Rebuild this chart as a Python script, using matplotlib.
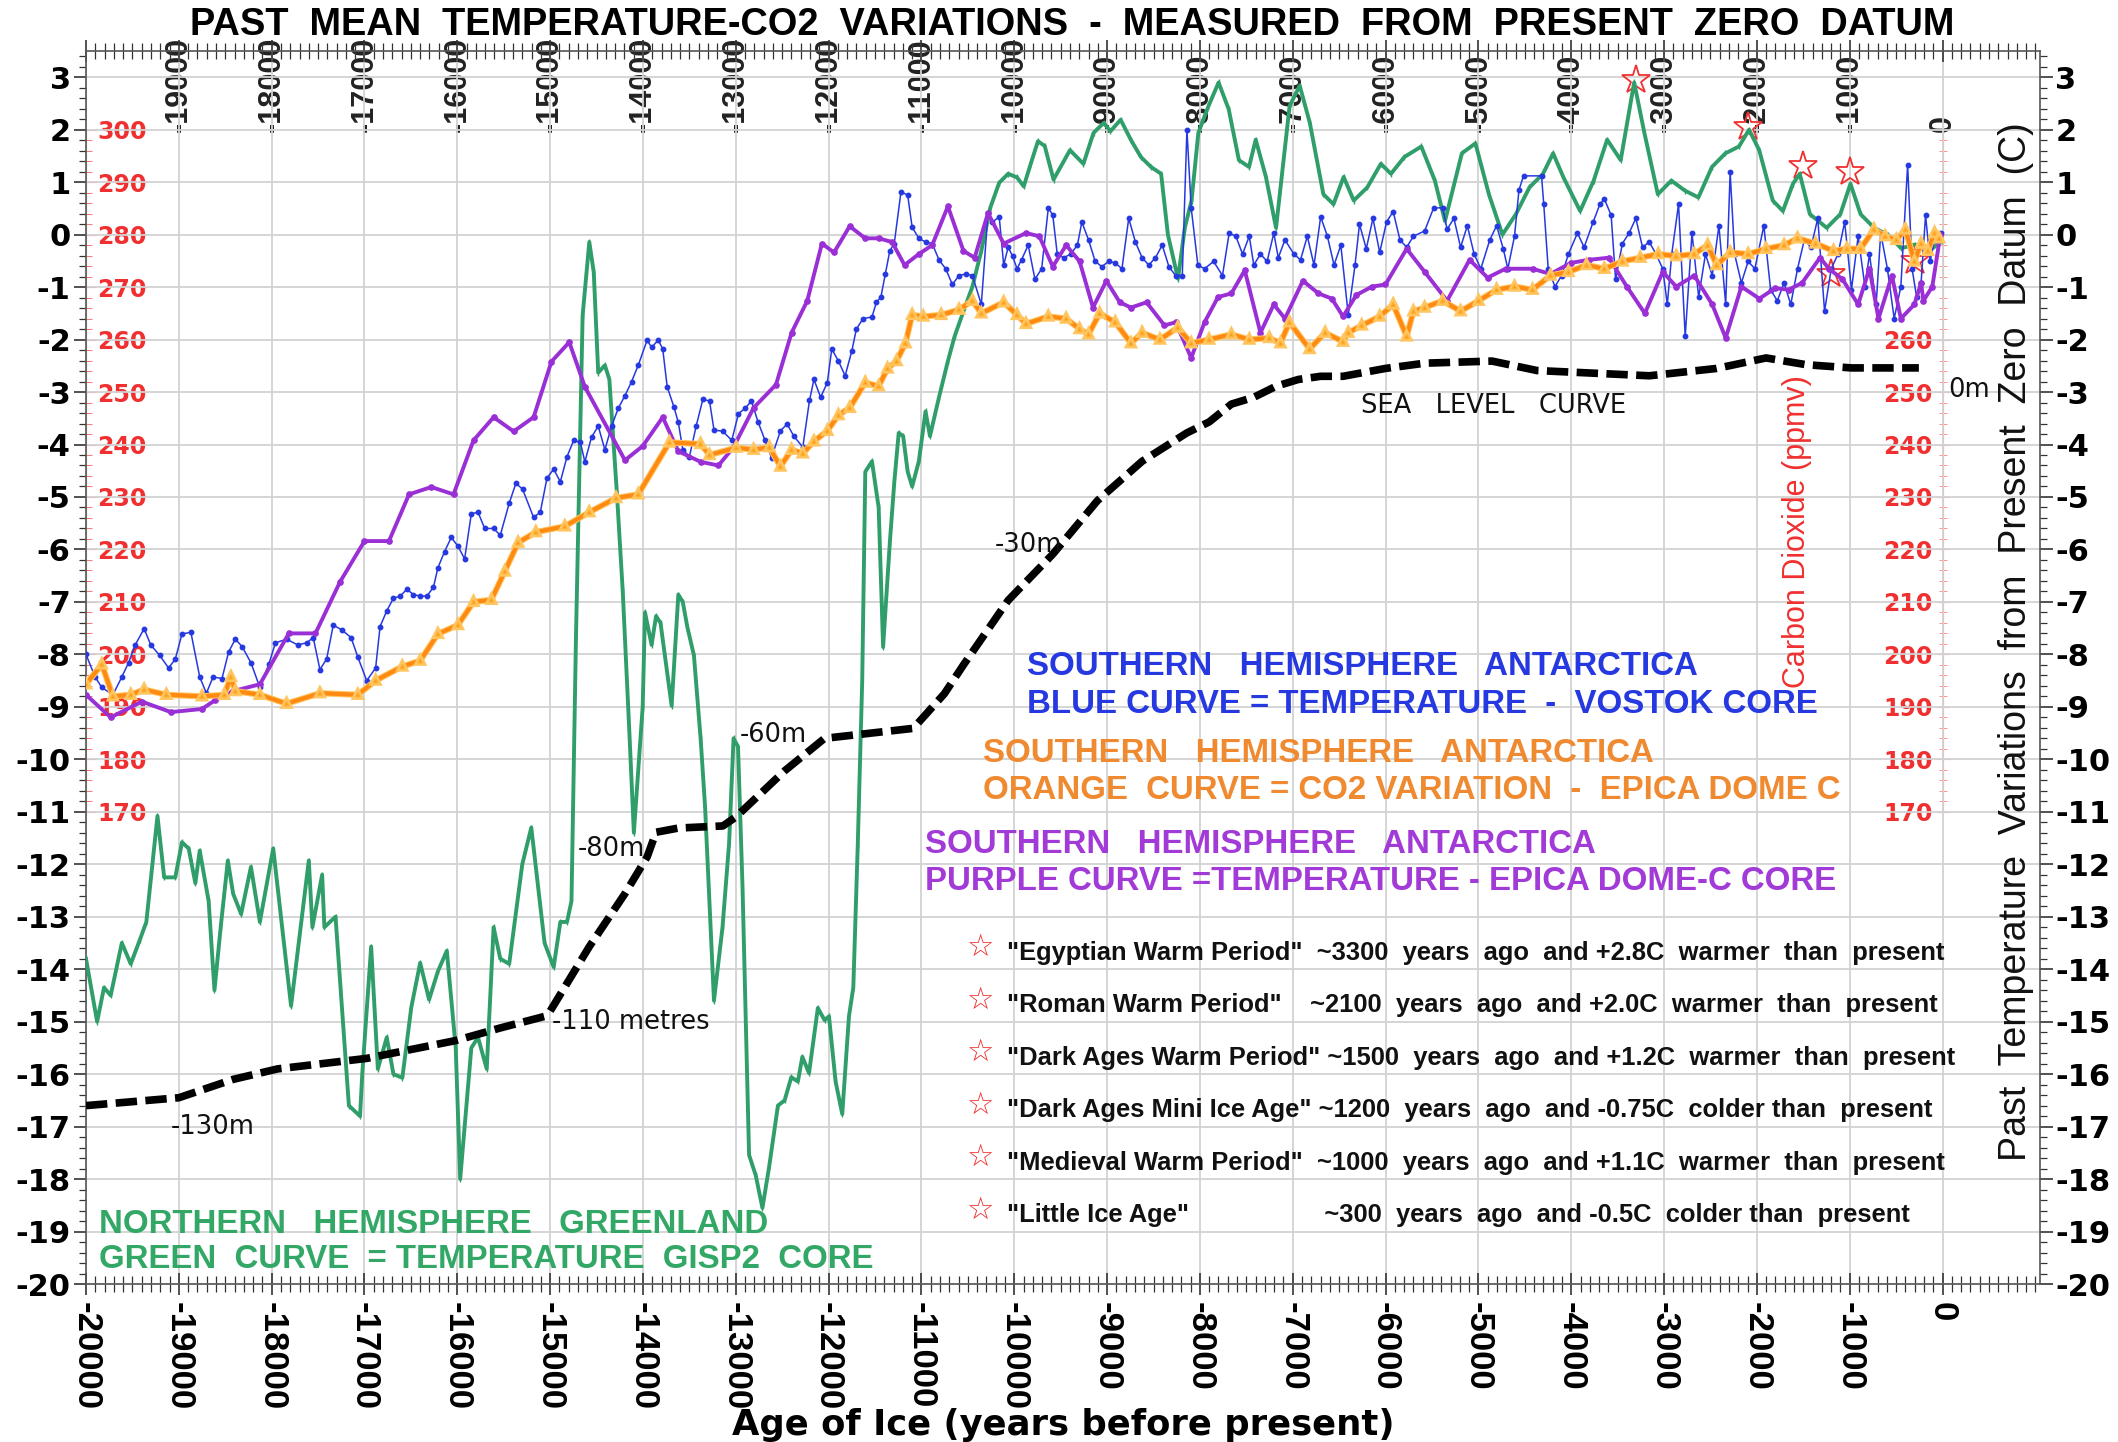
import numpy as np
import matplotlib
matplotlib.use("Agg")
import matplotlib.pyplot as plt
import matplotlib.patheffects as pe
from matplotlib.ticker import FixedLocator, MultipleLocator, FuncFormatter

plt.rcParams['axes.unicode_minus'] = False

NARROW = ['Liberation Sans Narrow', 'Liberation Sans', 'DejaVu Sans']
ARIAL = ['Liberation Sans', 'DejaVu Sans']
WIDE = ['DejaVu Sans']

# ---- GISP2 Greenland temperature (green), years before present vs deg C ----
green_year = [-20000, -19880, -19806, -19734, -19614, -19518, -19422, -19350, -19230, -19158,
              -19038, -18966, -18894, -18822, -18775, -18679, -18616, -18549, -18472, -18415,
              -18329, -18223, -18127, -17983, -17791, -17600, -17561, -17456, -17432, -17312,
              -17168, -17048, -17024, -16928, -16856, -16760, -16688, -16592, -16496, -16400,
              -16304, -16209, -16113, -16017, -15969, -15849, -15777, -15683, -15609, -15537,
              -15441, -15300, -15203, -15060, -14962, -14890, -14818, -14770, -14722, -14650,
              -14578, -14530, -14482, -14410, -14362, -14280, -14218, -14146, -14098, -14003,
              -13978, -13907, -13859, -13811, -13691, -13619, -13571, -13523, -13451, -13379,
              -13331, -13235, -13143, -13072, -13024, -12976, -12928, -12857, -12785, -12713,
              -12641, -12546, -12474, -12402, -12331, -12283, -12211, -12116, -12044, -11996,
              -11925, -11853, -11781, -11734, -11686, -11638, -11605, -11533, -11461, -11413,
              -11341, -11293, -11245, -11197, -11148, -11100, -11028, -10956, -10908, -10811,
              -10715, -10643, -10547, -10451, -10355, -10259, -10162, -10066, -9970, -9898,
              -9826, -9745, -9672, -9577, -9400, -9255, -9146, -9036, -8964, -8854,
              -8745, -8636, -8527, -8418, -8345, -8236, -8163, -8090, -8017, -7908,
              -7799, -7690, -7580, -7471, -7399, -7289, -7180, -7034, -6925, -6816,
              -6670, -6561, -6452, -6343, -6197, -6051, -5942, -5797, -5615, -5469,
              -5360, -5178, -5032, -4887, -4741, -4596, -4450, -4304, -4195, -4086,
              -3904, -3758, -3613, -3467, -3322, -3212, -3067, -2921, -2776, -2630,
              -2484, -2339, -2193, -2084, -1975, -1829, -1720, -1611, -1538, -1429,
              -1247, -1101, -992, -883, -737, -592, -446, -300, -155, -9]
green_temp = [-13.8, -15.0, -14.35, -14.5, -13.5, -13.9, -13.45, -13.1, -11.08, -12.25,
              -12.25, -11.58, -11.7, -12.36, -11.74, -12.7, -14.4, -13.2, -11.93, -12.56,
              -12.95, -12.05, -13.1, -11.7, -14.7, -11.93, -13.2, -12.2, -13.2, -13.0,
              -16.6, -16.8, -16.0, -13.57, -15.9, -15.3, -16.0, -16.07, -14.73, -13.88,
              -14.58, -14.04, -13.65, -15.5, -18.0, -15.5, -15.3, -15.9, -13.2, -13.8,
              -13.9, -12.0, -11.3, -13.5, -13.96, -13.1, -13.1, -12.7, -7.7, -1.54,
              -0.14, -0.72, -2.63, -2.49, -2.76, -4.95, -6.79, -9.5, -11.4, -9.0,
              -7.2, -7.82, -7.27, -7.4, -8.98, -6.86, -7.0, -7.47, -8.02, -9.6,
              -10.9, -14.6, -13.2, -11.6, -9.6, -9.76, -12.4, -17.54, -17.93, -18.55,
              -17.77, -16.6, -16.5, -16.06, -16.14, -15.67, -15.98, -14.74, -14.97, -14.9,
              -16.14, -16.76, -14.9, -14.35, -11.63, -8.5, -4.52, -4.32, -5.2, -7.86,
              -5.88, -4.73, -3.78, -3.84, -4.52, -4.8, -4.32, -3.37, -3.84, -3.1,
              -2.41, -1.94, -1.46, -0.99, -0.31, 0.51, 0.99, 1.16, 1.09, 0.92,
              1.33, 1.78, 1.69, 1.05, 1.61, 1.35, 1.94, 2.13, 1.97, 2.19,
              1.81, 1.48, 1.29, 1.16, 0.0, -0.84, 0.13, 0.65, 1.94, 2.45,
              2.9, 2.39, 1.42, 1.29, 1.81, 1.1, 0.13, 2.45, 2.84, 2.13,
              0.77, 0.58, 1.1, 0.65, 0.9, 1.35, 1.16, 1.48, 1.68, 1.03,
              0.26, 1.55, 1.74, 0.77, 0.0, 0.39, 0.9, 1.16, 1.55, 1.1,
              0.45, 1.03, 1.81, 1.42, 2.9, 1.94, 0.77, 1.03, 0.84, 0.71,
              1.29, 1.55, 1.68, 2.0, 1.61, 0.65, 0.45, 0.97, 1.16, 0.39,
              0.13, 0.39, 0.97, 0.39, 0.13, 0.0, -0.26, -0.19, -0.32, -0.13]

# ---- Vostok temperature (blue) ----
blue_year = [-20000, -19902, -19830, -19710, -19614, -19542, -19470, -19374, -19302, -19206,
             -19110, -19038, -18966, -18870, -18775, -18703, -18631, -18535, -18463, -18391,
             -18319, -18223, -18127, -18031, -17959, -17839, -17719, -17624, -17552, -17480,
             -17408, -17336, -17240, -17144, -17072, -16976, -16880, -16832, -16760, -16688,
             -16616, -16544, -16472, -16400, -16328, -16257, -16209, -16137, -16065, -15993,
             -15921, -15849, -15777, -15705, -15609, -15537, -15441, -15369, -15297, -15178,
             -15106, -15034, -14962, -14890, -14818, -14746, -14674, -14626, -14554, -14482,
             -14410, -14338, -14266, -14194, -14122, -14051, -13955, -13907, -13835, -13787,
             -13739, -13667, -13619, -13571, -13499, -13427, -13355, -13283, -13235, -13139,
             -13043, -12971, -12899, -12832, -12760, -12687, -12615, -12519, -12447, -12375,
             -12278, -12206, -12158, -12086, -12014, -11966, -11894, -11822, -11749, -11701,
             -11629, -11533, -11485, -11437, -11389, -11341, -11293, -11220, -11148, -11100,
             -11028, -10956, -10884, -10811, -10739, -10667, -10595, -10523, -10451, -10355,
             -10283, -10235, -10162, -10114, -10066, -10018, -9970, -9922, -9850, -9777,
             -9705, -9633, -9585, -9537, -9465, -9393, -9320, -9272, -9200, -9128,
             -9056, -8984, -8912, -8840, -8767, -8695, -8623, -8551, -8479, -8406,
             -8334, -8262, -8190, -8140, -8094, -8022, -7950, -7853, -7757, -7685,
             -7613, -7541, -7468, -7420, -7348, -7276, -7204, -7156, -7084, -6988,
             -6916, -6843, -6771, -6699, -6627, -6555, -6482, -6402, -6329, -6281,
             -6208, -6136, -6063, -5990, -5918, -5845, -5773, -5700, -5579, -5482,
             -5385, -5337, -5264, -5192, -5119, -5046, -4974, -4877, -4804, -4732,
             -4683, -4611, -4563, -4514, -4320, -4296, -4248, -4175, -4103, -4030,
             -3933, -3861, -3764, -3691, -3643, -3570, -3522, -3449, -3377, -3304,
             -3232, -3159, -3087, -3014, -2965, -2917, -2844, -2772, -2699, -2627,
             -2554, -2481, -2409, -2336, -2288, -2240, -2167, -2094, -2022, -1925,
             -1852, -1780, -1707, -1635, -1562, -1489, -1417, -1344, -1271, -1199,
             -1126, -1054, -981, -909, -836, -787, -715, -666, -594, -521,
             -449, -376, -328, -279, -231, -183, -134, -86, -14]
blue_temp = [-8.0, -8.43, -8.63, -8.77, -8.43, -8.16, -7.82, -7.51, -7.82, -8.02,
             -8.26, -8.09, -7.61, -7.58, -8.43, -8.74, -8.43, -8.46, -7.95, -7.71,
             -7.85, -8.16, -8.63, -8.19, -7.78, -7.71, -7.82, -7.78, -7.68, -8.29,
             -8.09, -7.44, -7.54, -7.68, -8.05, -8.5, -8.26, -7.47, -7.17, -6.93,
             -6.89, -6.76, -6.86, -6.89, -6.89, -6.72, -6.35, -6.04, -5.77, -5.94,
             -6.18, -5.32, -5.29, -5.6, -5.6, -5.73, -5.12, -4.74, -4.85, -5.39,
             -5.29, -4.64, -4.47, -4.71, -4.23, -3.92, -3.96, -4.33, -3.86, -3.65,
             -4.1, -3.65, -3.31, -3.07, -2.8, -2.49, -2.01, -2.15, -2.01, -2.18,
             -2.9, -3.28, -3.58, -4.1, -4.23, -3.65, -3.14, -3.17, -3.72, -3.75,
             -3.92, -3.41, -3.31, -3.17, -3.57, -3.91, -4.25, -3.74, -3.61, -3.84,
             -4.05, -3.16, -2.76, -3.1, -2.82, -2.18, -2.41, -2.69, -2.21, -1.8,
             -1.6, -1.57, -1.29, -1.19, -0.75, -0.31, -0.17, 0.82, 0.75, 0.14,
             -0.07, -0.14, -0.17, -0.48, -0.65, -0.95, -0.78, -0.75, -0.78, -1.33,
             0.41, 0.24, 0.34, -0.58, -0.24, -0.41, -0.65, -0.48, -0.2, -0.85,
             -0.65, 0.51, 0.37, -0.37, -0.44, -0.37, -0.2, 0.24, -0.1, -0.51,
             -0.61, -0.51, -0.54, -0.65, 0.31, -0.14, -0.44, -0.58, -0.44, -0.2,
             -0.61, -0.78, -0.78, 2.0, 0.51, -0.58, -0.65, -0.51, -0.78, 0.03,
             -0.03, -0.37, -0.03, -0.58, -0.37, -0.51, 0.03, -0.44, -0.1, -0.37,
             -0.48, -0.03, -0.58, 0.34, -0.03, -0.58, -0.2, -1.53, -0.58, 0.2,
             -0.27, 0.31, -0.34, 0.24, 0.44, -0.1, -0.24, -0.03, 0.07, 0.51,
             0.51, 0.1, 0.31, -0.24, 0.17, -0.37, -0.65, -0.1, 0.17, -0.27,
             -0.65, -0.03, 0.85, 1.12, 1.12, 0.58, -0.65, -0.99, -0.78, -0.37,
             0.03, -0.24, 0.24, 0.58, 0.68, 0.37, -0.85, -0.17, 0.03, 0.31,
             -0.24, -0.14, -0.37, -0.65, -1.33, -0.37, 0.58, -1.94, 0.03, -1.19,
             -0.37, -0.78, 0.17, -1.33, 1.19, -0.37, -0.92, -0.51, -0.65, 0.17,
             -1.05, -1.26, -0.92, -1.33, -0.65, -0.1, -0.24, 0.31, -1.46, -0.65,
             -0.37, 0.24, -1.05, -0.03, -0.99, -0.37, -1.33, 0.03, -0.65, -1.6,
             -0.99, 1.33, -0.65, -1.19, -0.92, 0.37, -0.51, -0.1, 0.03]

# ---- EPICA Dome C temperature (purple) ----
purple_year = [-20000, -19734, -19398, -19086, -18750, -18607, -18415, -18127, -17815, -17528,
               -17264, -17000, -16736, -16520, -16280, -16041, -15825, -15609, -15393, -15178,
               -14986, -14794, -14626, -14194, -14003, -13787, -13619, -13379, -13187, -13024,
               -12808, -12567, -12399, -12230, -12072, -11942, -11773, -11605, -11461, -11317,
               -11182, -11028, -10884, -10715, -10547, -10427, -10283, -10114, -9874, -9730,
               -9585, -9441, -9296, -9152, -9008, -8863, -8743, -8575, -8382, -8262,
               -8094, -7950, -7805, -7661, -7517, -7348, -7204, -7084, -6891, -6723,
               -6579, -6458, -6314, -6146, -6001, -5773, -5579, -5337, -5095, -4901,
               -4708, -4417, -4224, -4006, -3812, -3595, -3401, -3207, -3014, -2869,
               -2675, -2481, -2336, -2167, -1973, -1804, -1659, -1513, -1320, -1223,
               -1078, -909, -787, -690, -545, -449, -303, -231, -206, -110, -23]
purple_temp = [-8.77, -9.2, -8.9, -9.1, -9.04, -8.87, -8.7, -8.57, -7.6, -7.6,
               -6.62, -5.84, -5.84, -4.95, -4.81, -4.95, -3.92, -3.48, -3.75, -3.48,
               -2.42, -2.05, -2.9, -4.3, -4.03, -3.48, -4.13, -4.33, -4.4, -4.05,
               -3.3, -2.86, -1.87, -1.26, -0.17, -0.34, 0.16, -0.07, -0.07, -0.14,
               -0.58, -0.37, -0.2, 0.54, -0.31, -0.44, 0.41, -0.17, 0.03, -0.03,
               -0.61, -0.2, -0.51, -1.39, -0.88, -1.29, -1.39, -1.29, -1.73, -1.67,
               -2.35, -1.67, -1.19, -1.12, -0.68, -1.87, -1.33, -1.6, -0.88, -1.12,
               -1.22, -1.56, -1.15, -0.99, -0.95, -0.27, -0.71, -1.26, -0.48, -0.82,
               -0.65, -0.65, -0.75, -0.54, -0.48, -0.44, -0.99, -1.5, -0.71, -0.99,
               -0.78, -1.33, -1.97, -0.99, -1.22, -1.02, -1.05, -0.92, -0.44, -0.65,
               -0.85, -1.33, -0.65, -1.6, -0.78, -1.6, -1.33, -0.92, -1.26, -0.99, 0.0]

# ---- EPICA Dome C carbon dioxide (orange), ppmv ----
co2_year = [-20000, -19830, -19710, -19518, -19374, -19134, -18750, -18510, -18439, -18391,
            -18127, -17839, -17480, -17072, -16880, -16592, -16400, -16209, -15993, -15825,
            -15633, -15489, -15345, -15154, -14842, -14578, -14290, -14051, -13715, -13379,
            -13283, -12995, -12808, -12639, -12519, -12399, -12278, -12158, -12014, -11894,
            -11773, -11605, -11461, -11365, -11268, -11172, -11100, -10980, -10787, -10595,
            -10451, -10355, -10114, -9970, -9874, -9633, -9441, -9296, -9200, -9080,
            -8912, -8743, -8623, -8431, -8238, -8094, -7901, -7661, -7468, -7252,
            -7132, -7036, -6819, -6651, -6458, -6402, -6257, -6063, -5918, -5773,
            -5700, -5579, -5385, -5192, -4998, -4804, -4611, -4417, -4224, -4030,
            -3836, -3643, -3449, -3256, -3062, -2869, -2675, -2530, -2433, -2288,
            -2094, -1901, -1707, -1562, -1368, -1175, -1030, -884, -739, -618,
            -497, -400, -303, -231, -158, -86, -37]
co2_ppmv = [194.3, 198.1, 192.0, 192.3, 193.3, 192.3, 192.0, 192.3, 195.7, 193.0,
            192.3, 190.6, 192.6, 192.3, 195.0, 197.7, 198.8, 203.9, 205.6, 210.0,
            210.4, 215.8, 221.3, 223.3, 224.4, 227.1, 229.8, 230.5, 240.4, 240.1,
            238.0, 239.4, 239.0, 239.5, 235.8, 239.0, 238.3, 240.6, 242.6, 245.6,
            247.0, 251.8, 251.1, 254.5, 255.9, 259.3, 264.7, 264.4, 264.7, 265.7,
            267.4, 265.0, 267.1, 264.7, 263.0, 264.4, 264.0, 262.0, 261.0, 265.0,
            263.3, 259.3, 261.3, 260.0, 262.3, 259.3, 260.0, 261.0, 260.0, 260.3,
            259.3, 263.3, 258.2, 261.3, 259.6, 261.3, 262.7, 264.4, 266.7, 260.6,
            265.4, 266.1, 267.4, 265.4, 267.4, 269.5, 270.1, 269.5, 272.2, 272.9,
            274.2, 273.5, 274.9, 275.6, 276.3, 275.9, 276.3, 278.0, 274.2, 276.6,
            276.3, 277.3, 278.0, 279.3, 278.3, 276.9, 277.3, 277.3, 281.0, 279.7,
            279.0, 281.0, 274.9, 278.3, 276.9, 280.3, 279.3]

# ---- sea level curve, drawn on the temperature scale ----
sea_year = [-20000, -19000, -18415, -17935, -16976, -16017, -15537, -15060, -15000, -14578,
            -14194, -13955, -13859, -13619, -13139, -13000, -12474, -12044, -11088, -10753,
            -10547, -10066, -9585, -9104, -8623, -8142, -7901, -7661, -7420, -7180,
            -6939, -6699, -6458, -6001, -5579, -4853, -4369, -3643, -3159, -2433,
            -1901, -1465, -981, -255]
sea_plot = [-16.6, -16.45, -16.1, -15.9, -15.7, -15.36, -15.12, -14.9, -14.8, -13.57,
            -12.56, -11.86, -11.39, -11.31, -11.27, -11.1, -10.22, -9.6, -9.41, -8.75,
            -8.2, -6.97, -6.09, -5.07, -4.32, -3.78, -3.57, -3.23, -3.1, -2.89,
            -2.76, -2.7, -2.7, -2.55, -2.45, -2.41, -2.59, -2.65, -2.69, -2.55,
            -2.35, -2.48, -2.54, -2.54]
sea_labels = ["-130m", "-110 metres", "-80m", "-60m", "-30m", "0m"]

# ---- warm / cold periods (red stars) ----
event_names = ['"Egyptian Warm Period"', '"Roman Warm Period"', '"Dark Ages Warm Period"',
               '"Dark Ages Mini Ice Age"', '"Medieval Warm Period"', '"Little Ice Age"']
event_year = [-3300, -2100, -1500, -1200, -1000, -300]
event_temp = [2.95, 2.05, 1.3, -0.75, 1.2, -0.5]
event_text = ['  ~3300  years  ago  and +2.8C  warmer  than  present',
              '    ~2100  years  ago  and +2.0C  warmer  than  present',
              ' ~1500  years  ago  and +1.2C  warmer  than  present',
              ' ~1200  years  ago  and -0.75C  colder than  present',
              '  ~1000  years  ago  and +1.1C  warmer  than  present',
              '                   ~300  years  ago  and -0.5C  colder than  present']


def co2_to_t(c):
    return (np.asarray(c, dtype=float) - 280.0) / 10.0


def t_to_co2(t):
    return np.asarray(t, dtype=float) * 10.0 + 280.0


GREEN = '#2f9e6a'
BLUE = '#2638e0'
PURPLE = '#9a2fd6'
ORANGE = '#ff8a12'
RED = '#f03030'

fig = plt.figure(figsize=(21.18, 14.42), dpi=100)
ax = fig.add_axes([86 / 2118, 1 - 1284 / 1442, (2040 - 86) / 2118, (1284 - 51) / 1442])
ax.set_xlim(-20000, 1050)
ax.set_ylim(-20, 3.5)

ax.xaxis.set_major_locator(FixedLocator(np.arange(-20000, 1, 1000)))
ax.xaxis.set_minor_locator(MultipleLocator(100))
ax.yaxis.set_major_locator(FixedLocator(np.arange(-20, 4, 1)))
ax.yaxis.set_minor_locator(MultipleLocator(0.2))
ax.xaxis.set_major_formatter(FuncFormatter(lambda v, p: '%d' % v))
ax.yaxis.set_major_formatter(FuncFormatter(lambda v, p: '%d' % v))
ax.grid(True, which='major', color='#d2d2d2', lw=1.3, zorder=0)
ax.set_axisbelow(True)

ax.tick_params(axis='x', which='both', bottom=True, top=True, direction='inout',
               labelbottom=True, labeltop=False, labelrotation=-90, pad=5, color='#333333')
ax.tick_params(axis='x', which='major', length=16, width=1.2)
ax.tick_params(axis='x', which='minor', length=12, width=0.9)
ax.tick_params(axis='y', which='both', left=True, right=True, labelleft=True, labelright=True,
               direction='out', color='#333333')
ax.tick_params(axis='y', which='major', length=9, width=1.2, pad=2)
ax.tick_params(axis='y', which='minor', length=5, width=0.9)
for lab in ax.get_xticklabels():
    lab.set_fontfamily(NARROW)
    lab.set_fontweight('bold')
    lab.set_fontsize(25)
for lab in ax.get_yticklabels():
    lab.set_fontfamily(WIDE)
    lab.set_fontweight('bold')
    lab.set_fontsize(22)
for side in ['left', 'right', 'top', 'bottom']:
    ax.spines[side].set_color('#555555')
    ax.spines[side].set_linewidth(1.2)

# top year labels inside the frame
top = ax.secondary_xaxis('top')
top.xaxis.set_major_locator(FixedLocator(np.arange(-19000, 1, 1000)))
top.xaxis.set_major_formatter(FuncFormatter(lambda v, p: '%d' % v))
top.tick_params(length=0, pad=-58, labelrotation=90, labelsize=22, labelcolor='#222222')
top.spines['top'].set_visible(False)
for lab in top.get_xticklabels():
    lab.set_fontfamily(NARROW)
    lab.set_fontweight('bold')

# carbon dioxide scales
co2_left = ax.secondary_yaxis(0.0, functions=(t_to_co2, co2_to_t))
co2_left.set_alignment('right')
co2_left.spines['right'].set_bounds(170, 300)
co2_left.spines['right'].set_color('#ff7070')
co2_left.yaxis.set_major_locator(FixedLocator(np.arange(170, 301, 10)))
co2_left.yaxis.set_minor_locator(FixedLocator(np.arange(170, 301, 2)))
co2_left.tick_params(which='both', direction='out', color='#ff6060', labelcolor=RED, pad=1)
co2_left.tick_params(which='major', length=7)
co2_left.tick_params(which='minor', length=4)
for lab in co2_left.get_yticklabels():
    lab.set_fontfamily(WIDE)
    lab.set_fontweight('bold')
    lab.set_fontsize(17)

co2_right = ax.secondary_yaxis(0, functions=(t_to_co2, co2_to_t), transform=ax.transData)
co2_right.spines['left'].set_bounds(170, 300)
co2_right.spines['left'].set_color('#ff8080')
co2_right.yaxis.set_major_locator(FixedLocator(np.arange(170, 261, 10)))
co2_right.yaxis.set_minor_locator(FixedLocator(np.arange(170, 301, 2)))
co2_right.tick_params(which='both', direction='inout', color='#ff8080', labelcolor=RED, pad=3)
co2_right.tick_params(which='major', length=8)
co2_right.tick_params(which='minor', length=6)
for lab in co2_right.get_yticklabels():
    lab.set_fontfamily(WIDE)
    lab.set_fontweight('bold')
    lab.set_fontsize(17)

# curves
ax.plot(event_year, event_temp, ls='none', marker='*', ms=21, mfc='none', mec=RED,
        mew=1.3, zorder=2)
ax.plot(green_year, green_temp, color=GREEN, lw=2.8, marker='|', ms=4, mew=1, zorder=3)
ax.plot(sea_year, sea_plot, color='black', lw=5.5, ls=(0, (2.8, 1.1)), zorder=4)
ax.plot(blue_year, blue_temp, color=BLUE, lw=1.1, marker='o', ms=3.2, zorder=5)
ax.plot(purple_year, purple_temp, color=PURPLE, lw=2.8, marker='o', ms=3.8, zorder=6)
ax.plot(co2_year, co2_to_t(co2_ppmv), color=ORANGE, lw=3.0, marker='^', ms=3, mec='#ffb030',
        zorder=7, path_effects=[pe.withStroke(linewidth=4.5, foreground='#ffc560')])

# sea level labels
sea_kw = dict(fontsize=18.5, family=WIDE, color='#111111', va='center', ha='left', zorder=8)
ax.text(-19090, -17.0, sea_labels[0], **sea_kw)
ax.text(-14980, -15.0, sea_labels[1], **sea_kw)
ax.text(-14700, -11.7, sea_labels[2], **sea_kw)
ax.text(-12960, -9.53, sea_labels[3], **sea_kw)
ax.text(-10210, -5.92, sea_labels[4], **sea_kw)
ax.text(60, -2.96, sea_labels[5], **sea_kw)
ax.text(-6260, -3.27, 'SEA   LEVEL   CURVE', **sea_kw)

# curve captions
cap_kw = dict(fontsize=23.8, family=ARIAL, fontweight='bold', va='center', ha='left', zorder=8)
ax.text(-9860, -8.23, 'SOUTHERN   HEMISPHERE   ANTARCTICA', color=BLUE, **cap_kw)
ax.text(-9860, -8.95, 'BLUE CURVE = TEMPERATURE  -  VOSTOK CORE', color=BLUE, **cap_kw)
ax.text(-10340, -9.88, 'SOUTHERN   HEMISPHERE   ANTARCTICA', color='#f08a30', **cap_kw)
ax.text(-10340, -10.6, 'ORANGE  CURVE = CO2 VARIATION  -  EPICA DOME C', color='#f08a30', **cap_kw)
ax.text(-10960, -11.63, 'SOUTHERN   HEMISPHERE   ANTARCTICA', color='#a23ad8', **cap_kw)
ax.text(-10960, -12.32, 'PURPLE CURVE =TEMPERATURE - EPICA DOME-C CORE', color='#a23ad8', **cap_kw)
ax.text(-19860, -18.86, 'NORTHERN   HEMISPHERE   GREENLAND', color='#33a866', **cap_kw)
ax.text(-19860, -19.53, 'GREEN  CURVE  = TEMPERATURE  GISP2  CORE', color='#33a866', **cap_kw)

# event list
for i, (name, txt) in enumerate(zip(event_names, event_text)):
    row = -13.69 - i * 1.0
    ax.text(-10370, row + 0.1, '\u2606', color=RED, fontsize=22, family=WIDE,
            ha='center', va='center', zorder=8)
    ax.text(-10080, row, name + txt, color='#111111', fontsize=18.4, family=ARIAL,
            fontweight='bold', ha='left', va='center', zorder=8)

ax.text(-1570, -5.65, 'Carbon Dioxide (ppmv)', rotation=90, color=RED, fontsize=22,
        family=NARROW, ha='center', va='center', zorder=8)
ax.text(790, -7.75, 'Past  Temperature  Variations  from  Present  Zero  Datum  (C)',
        rotation=90, color='#111111', fontsize=27, family=NARROW, ha='center', va='center',
        zorder=8)

fig.text(0.506, 0.983,
         'PAST  MEAN  TEMPERATURE-CO2  VARIATIONS  -  MEASURED  FROM  PRESENT  ZERO  DATUM',
         ha='center', va='center', fontsize=27.4, fontweight='bold', family=NARROW)
fig.text(0.502, 0.012, 'Age of Ice (years before present)', ha='center', va='center',
         fontsize=25.5, fontweight='bold', family=WIDE)

fig.savefig('out.png', dpi=100)
